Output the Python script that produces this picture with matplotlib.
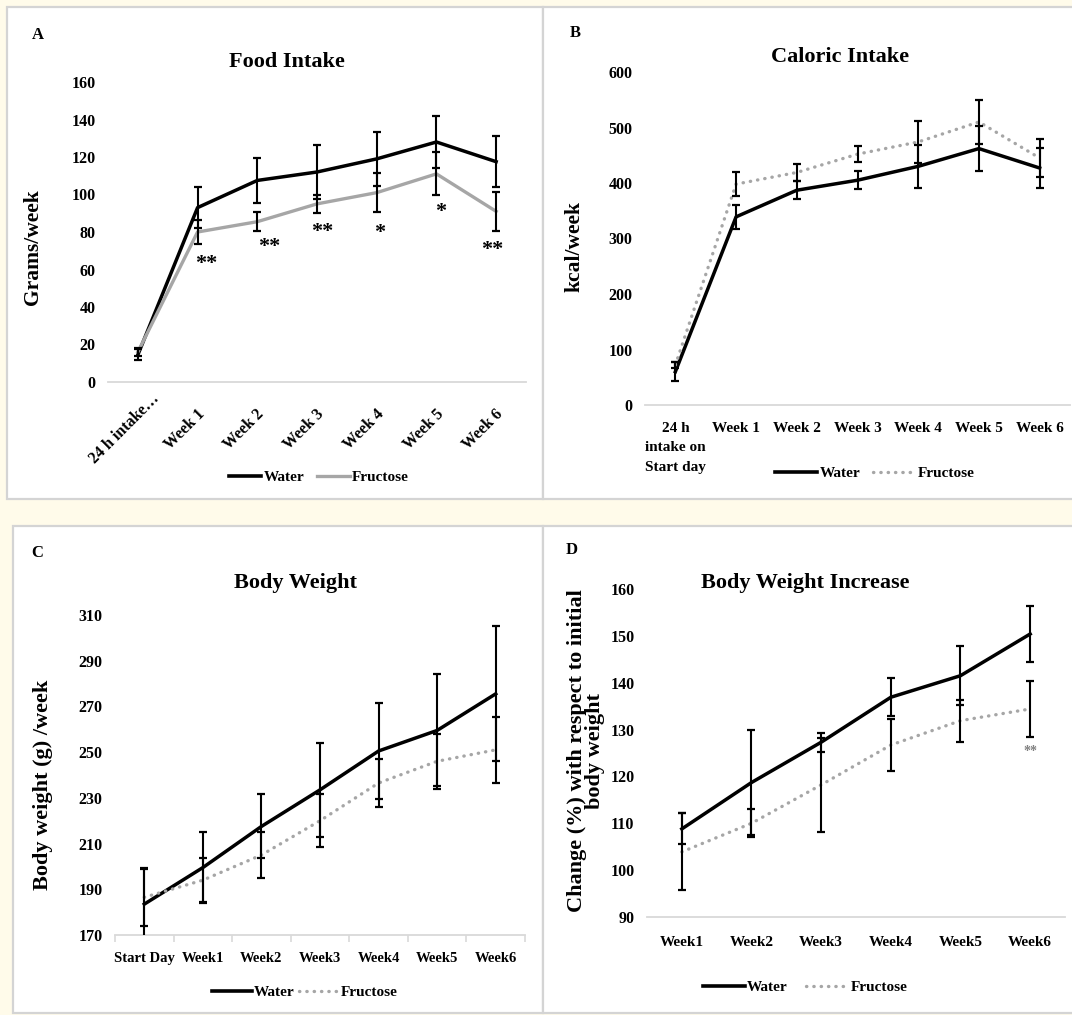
import numpy as np
import matplotlib
matplotlib.use('Agg')
import matplotlib.pyplot as plt
from matplotlib.patches import Rectangle
from matplotlib.lines import Line2D
from matplotlib.transforms import ScaledTranslation

plt.rcParams['font.family'] = ['Liberation Serif', 'DejaVu Serif']
plt.rcParams['font.weight'] = 'bold'

W, H = 1072, 1015
CREAM = '#FFFBEA'
GRAY = '#A6A6A6'
EDGE = '#D4D4D4'

# ---- data ----
# A: food intake (g/week)
cats_a = ['24 h intake…', 'Week 1', 'Week 2', 'Week 3', 'Week 4', 'Week 5', 'Week 6']
water_a = [14.5, 93, 107.5, 112, 119, 128, 117.5]
water_a_err = [3, 11, 12, 14.5, 14.5, 14, 13.5]
fruct_a = [16, 80, 85.5, 95, 101, 111, 91]
fruct_a_err = [2, 6.5, 5, 5, 10.5, 11.5, 10.5]
stars_a = ['**', '**', '**', '*', '*', '**']
stars_a_x = [1.15, 2.2, 3.08, 4.05, 5.07, 5.93]
stars_a_y = [62.9, 72, 80, 79.5, 90.7, 70.4]

# B: caloric intake (kcal/week)
cats_b = ['24 h\nintake on\nStart day', 'Week 1', 'Week 2', 'Week 3', 'Week 4', 'Week 5', 'Week 6']
water_b = [60, 339, 387, 405, 430, 462, 427]
water_b_err = [17, 22, 16, 16, 39, 40, 36]
fruct_b = [72, 398, 419, 452, 474, 510, 445]
fruct_b_err = [6, 22, 16, 15, 38, 40, 34]

# C: body weight (g)
cats_c = ['Start Day', 'Week1', 'Week2', 'Week3', 'Week4', 'Week5', 'Week6']
water_c = [183.5, 199.5, 217.5, 233.5, 250.5, 259.5, 275.5]
water_c_err = [16, 15.5, 14, 20.5, 21, 24.5, 29.5]
fruct_c = [186.5, 194, 205, 220, 236.5, 246, 251]
fruct_c_err = [12.5, 9.5, 10, 11.5, 10.5, 12, 14.5]

# D: body weight increase (%)
cats_d = ['Week1', 'Week2', 'Week3', 'Week4', 'Week5', 'Week6']
water_d = [108.8, 118.7, 127.3, 136.9, 141.5, 150.4]
water_d_err = [3.3, 11.2, 2, 4, 6.3, 6]
fruct_d = [103.9, 110, 118.2, 126.7, 131.9, 134.4]
fruct_d_err = [8.2, 3, 10, 5.5, 4.5, 6]
star_d_y = 125.3


fig = plt.figure(figsize=(W / 100, H / 100), dpi=100, facecolor=CREAM)


def fx(x):
    return x / W


def fy(y):
    return 1 - y / H


def panel(x0, y0, x1, y1):
    fig.patches.append(Rectangle((fx(x0), fy(y1)), fx(x1 - x0), (y1 - y0) / H,
                                 transform=fig.transFigure, facecolor='white',
                                 edgecolor=EDGE, linewidth=1.6, zorder=-5))


def make_axes(x0, y0, x1, y1):
    ax = fig.add_axes([fx(x0), fy(y1), fx(x1 - x0), (y1 - y0) / H])
    ax.set_facecolor('none')
    for s in ['top', 'right', 'left']:
        ax.spines[s].set_visible(False)
    ax.spines['bottom'].set_color('#D9D9D9')
    ax.spines['bottom'].set_linewidth(1.3)
    ax.tick_params(axis='y', length=0, labelsize=11.5, pad=9)
    ax.tick_params(axis='x', length=0)
    return ax


def draw(ax, w, we, f, fe, dotted=True):
    x = np.arange(len(w))
    ax.plot(x, w, color='black', lw=2.5, zorder=3)
    if dotted:
        ax.plot(x, f, color=GRAY, lw=2.4, linestyle=(0, (0.1, 2.1)),
                dash_capstyle='round', zorder=3)
    else:
        ax.plot(x, f, color=GRAY, lw=2.4, zorder=3)
    ax.errorbar(x, w, yerr=we, fmt='none', ecolor='black', elinewidth=1.5,
                capsize=3, capthick=1.6, zorder=4)
    ax.errorbar(x, f, yerr=fe, fmt='none', ecolor='black', elinewidth=1.5,
                capsize=3, capthick=1.6, zorder=4)
    ax.set_xlim(-0.5, len(w) - 0.5)
    ax.set_xticks(x)


def legend(ax, cx, cy, dotted=True, hl=2.7, cs=0.9):
    fl = Line2D([], [], color=GRAY, lw=2.4)
    if dotted:
        fl = Line2D([], [], color=GRAY, lw=2.4, linestyle=(0, (0.1, 2.1)),
                    dash_capstyle='round')
    hs = [Line2D([], [], color='black', lw=2.6), fl]
    ax.legend(hs, ['Water', 'Fructose'], loc='center', ncol=2, frameon=False,
              bbox_to_anchor=(fx(cx), fy(cy)), bbox_transform=fig.transFigure,
              fontsize=11, handlelength=hl, handletextpad=0.15, columnspacing=cs)


panel(7, 7, 543, 499)
panel(543, 7, 1085, 499)
panel(13, 526, 543, 1013)
panel(543, 526, 1085, 1013)

# ---- A ----
ax = make_axes(108, 82, 526, 382)
draw(ax, water_a, water_a_err, fruct_a, fruct_a_err, dotted=False)
ax.set_ylim(0, 160)
ax.set_yticks(np.arange(0, 161, 20))
ax.set_xticklabels(cats_a, rotation=45, ha='center', va='center',
                   rotation_mode='anchor', fontsize=11.5)
ax.tick_params(axis='x', pad=34)
shift = ScaledTranslation(-13 / 100, 0, fig.dpi_scale_trans)
for lab in ax.get_xticklabels():
    lab.set_transform(lab.get_transform() + shift)
for s, x, y in zip(stars_a, stars_a_x, stars_a_y):
    ax.text(x, y, s, ha='center', va='center', fontsize=16)
legend(ax, 319, 477, dotted=False, hl=2.1, cs=0.85)
fig.text(fx(287), fy(62), 'Food Intake', ha='center', va='center', fontsize=16)
fig.text(fx(38), fy(35), 'A', ha='center', va='center', fontsize=12)
fig.text(fx(33), fy(247), 'Grams/week', rotation=90, ha='center', va='center', fontsize=15.5)

# ---- B ----
ax = make_axes(645, 72, 1070, 405)
draw(ax, water_b, water_b_err, fruct_b, fruct_b_err)
ax.set_ylim(0, 600)
ax.set_yticks(np.arange(0, 601, 100))
ax.set_xticklabels(cats_b, fontsize=11, va='top', linespacing=1.65)
ax.tick_params(axis='x', pad=12)
legend(ax, 875, 473, hl=2.75, cs=0.85)
fig.text(fx(840), fy(57), 'Caloric Intake', ha='center', va='center', fontsize=16)
fig.text(fx(575), fy(33), 'B', ha='center', va='center', fontsize=12)
fig.text(fx(575), fy(247), 'kcal/week', rotation=90, ha='center', va='center', fontsize=15.5)

# ---- C ----
ax = make_axes(115, 615, 525, 935)
draw(ax, water_c, water_c_err, fruct_c, fruct_c_err)
ax.set_ylim(170, 310)
ax.set_yticks(np.arange(170, 311, 20))
ax.set_xticklabels(cats_c, fontsize=10.5)
ax.set_xticks(np.arange(-0.5, 7, 1), minor=True)
ax.tick_params(axis='x', which='minor', length=5, color='#D9D9D9', width=1.2)
ax.tick_params(axis='x', which='major', pad=12)
legend(ax, 305, 992, hl=2.6, cs=0.3)
fig.text(fx(295), fy(583), 'Body Weight', ha='center', va='center', fontsize=16)
fig.text(fx(37), fy(553), 'C', ha='center', va='center', fontsize=12)
fig.text(fx(43), fy(785), 'Body weight (g) /week', rotation=90, ha='center', va='center', fontsize=16)

# ---- D ----
ax = make_axes(647, 589, 1065, 917)
draw(ax, water_d, water_d_err, fruct_d, fruct_d_err)
ax.set_ylim(90, 160)
ax.set_yticks(np.arange(90, 161, 10))
ax.set_xticklabels(cats_d, fontsize=11)
ax.tick_params(axis='x', pad=14)
ax.text(5, star_d_y, '**', ha='center', va='center', fontsize=10, color='#808080')
legend(ax, 805, 987, hl=2.75, cs=1.2)
fig.text(fx(805), fy(583), 'Body Weight Increase', ha='center', va='center', fontsize=16)
fig.text(fx(572), fy(550), 'D', ha='center', va='center', fontsize=12)
fig.text(fx(586), fy(751), 'Change (%) with respect to initial\nbody weight', rotation=90,
         ha='center', va='center', fontsize=16, linespacing=0.9, multialignment='center')

fig.savefig('out.png', dpi=100, facecolor=CREAM)
